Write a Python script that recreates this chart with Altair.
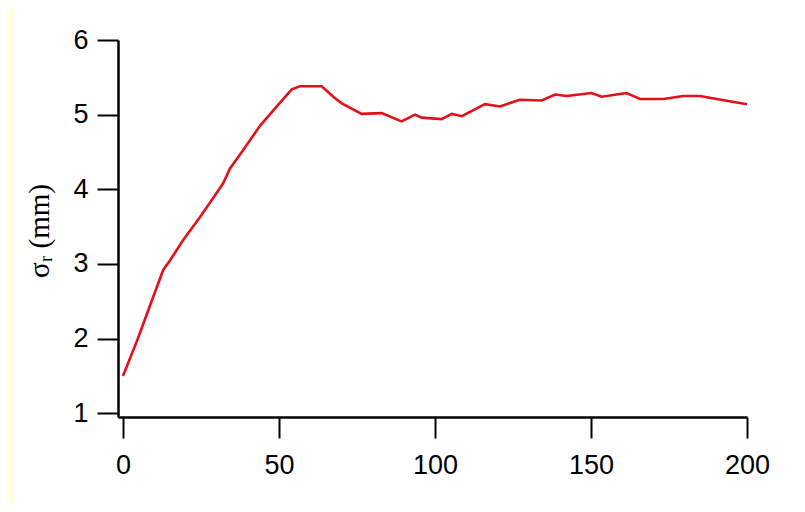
import altair as alt
import pandas as pd

x_vals = [0, 4.4, 6.5, 9.7, 12.9, 15.1, 19.3, 24.7, 30, 32.1, 34.3, 38.6, 43.9, 49.3,
          54.1, 56.7, 63.7, 67.4, 70.1, 76.5, 82.9, 89.3, 93.6, 95.7, 102.1, 105.4,
          108.6, 116, 120.8, 127.2, 134.2, 138.5, 142.2, 150.2, 153.4, 161.4, 165.7,
          173.2, 179.6, 184.9, 190.3, 200]
y_vals = [1.50, 1.96, 2.20, 2.56, 2.92, 3.05, 3.32, 3.63, 3.95, 4.08, 4.28, 4.53, 4.85,
          5.11, 5.34, 5.38, 5.38, 5.24, 5.15, 5.01, 5.02, 4.91, 5.00, 4.96, 4.94, 5.01,
          4.98, 5.14, 5.11, 5.20, 5.19, 5.27, 5.25, 5.29, 5.24, 5.29, 5.21, 5.21, 5.25,
          5.25, 5.21, 5.14]
x_ticks = [0, 50, 100, 150, 200]
y_ticks = [1, 2, 3, 4, 5, 6]

df = pd.DataFrame({"x": x_vals, "y": y_vals})

W, H = 629, 377
PL, PT, PR, PB = 110, 32, 50, 87

panel = alt.Chart(pd.DataFrame({"a": [0]})).mark_rect(fill="white", stroke=None).encode(
    x=alt.value(-(PL - 6)), x2=alt.value(W + PR), y=alt.value(-PT), y2=alt.value(H + PB)
)

line = alt.Chart(df).mark_line(color="#e3101a", strokeWidth=2.6).encode(
    x=alt.X("x:Q", scale=alt.Scale(domain=[-1.6, 200], nice=False, zero=False),
            axis=alt.Axis(values=x_ticks, title=None, grid=False, tickSize=21,
                          labelPadding=14, labelFontSize=27, zindex=1, labelFlush=False)),
    y=alt.Y("y:Q", scale=alt.Scale(domain=[0.95, 6], nice=False, zero=False),
            axis=alt.Axis(values=y_ticks, title="σᵣ (mm)", grid=False, tickSize=21,
                          labelPadding=9, labelFontSize=27, zindex=1,
                          titleX=-79, titleY=H / 2 + 2, titleAngle=270, titleAlign="center",
                          titleBaseline="middle", titleFont="Liberation Serif",
                          titleFontSize=29, titleFontWeight="normal", titleColor="black")),
)

chart = alt.layer(panel, line).properties(
    width=W, height=H,
    autosize=alt.AutoSizeParams(type="none"),
    padding={"left": PL, "top": PT, "right": PR, "bottom": PB},
    background="#ffffdc",
).configure_view(stroke=None).configure_axis(
    domainColor="black", domainWidth=2.5, tickColor="black", tickWidth=2,
    labelColor="black", labelFont="Liberation Sans", labelFlush=False,
)

chart.save("out.html", embed_options={"renderer": "svg", "actions": False})
